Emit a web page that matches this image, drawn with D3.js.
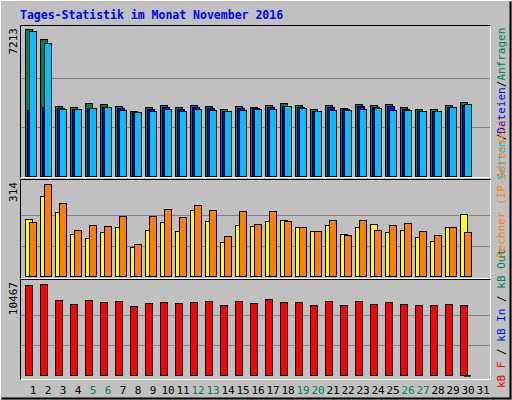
<!DOCTYPE html>
<html><head><meta charset="utf-8">
<script src="https://cdn.jsdelivr.net/npm/d3@7"></script>
<style>body{margin:0;background:#fff}</style>
</head><body><svg id="chart" width="512" height="400"></svg>
<script>
var days = d3.range(1, 32);
var weekend = [5, 6, 12, 13, 19, 20, 26, 27];
var hits = [7213,6707,3420,3370,3567,3518,3420,3174,3370,3469,3370,3469,3420,3272,3420,3370,3469,3567,3469,3272,3469,3322,3518,3469,3518,3370,3272,3272,3469,3616];
var files = [3239,3386,3322,3272,3322,3370,3322,3126,3272,3370,3272,3370,3322,3174,3322,3322,3370,3420,3370,3174,3370,3272,3420,3370,3420,3272,3174,3174,3370,3469];
var pages = [7100,6511,3272,3272,3322,3370,3224,3126,3174,3272,3174,3272,3224,3174,3224,3272,3272,3420,3322,3174,3224,3224,3272,3322,3224,3224,3174,3174,3370,3518];
var visits = [195,273,219,144,130,150,168,99,157,185,154,225,188,116,174,171,188,191,168,154,174,144,168,178,150,157,133,120,168,212];
var sites = [185,314,249,157,174,171,205,110,205,229,202,242,225,137,222,178,222,188,168,154,191,140,191,157,174,181,154,140,168,150];
var kbF = [10351,10467,8633,8175,8633,8404,8519,7946,8290,8404,8290,8404,8519,8061,8519,8290,8748,8404,8404,8061,8519,8061,8519,8175,8404,8175,8061,8061,8175,8061];
var kbIn = [0,0,0,0,0,0,0,0,0,0,0,0,0,0,0,0,0,0,0,0,0,0,0,0,0,0,0,0,0,60];
var maxLabels = ["7213", "314", "10467"];

var svg = d3.select("#chart");
var mono = "'DejaVu Sans Mono', monospace";
svg.append("rect").attr("width", 512).attr("height", 400).attr("fill", "#c0c0c0");
// outer bevel
svg.append("path").attr("d", "M0.5,399.5V0.5H511.5").attr("stroke", "#fff").attr("fill", "none");
svg.append("path").attr("d", "M1.5,398.5H510.5V1.5").attr("stroke", "#000").attr("stroke-width", 2).attr("fill", "none");

svg.append("text").attr("x", 20).attr("y", 19).attr("fill", "#0000ff")
  .style("font", "bold 11.5px " + mono).text("Tages-Statistik im Monat November 2016");

var x = d3.scaleLinear().domain([1, 31]).range([33, 483]);

var panels = [
  {top: 25, bottom: 177, base: 176, peak: 29, max: 7213},
  {top: 179, bottom: 278, base: 276.5, peak: 184.3, max: 314},
  {top: 279, bottom: 379, base: 375.7, peak: 284.3, max: 10467}
];
panels.forEach(function(p, i) {
  p.y = d3.scaleLinear().domain([0, p.max]).range([p.base, p.peak]);
  var g = svg.append("g");
  // grid at thirds
  [1, 2].forEach(function(k) {
    var gy = Math.round(p.base - (p.base - p.peak) * k / 3) + 0.5;
    g.append("line").attr("x1", 21).attr("x2", 490).attr("y1", gy).attr("y2", gy).attr("stroke", "#808080");
  });
  g.append("path").attr("d", "M20.5," + (p.bottom + 0.5) + "V" + (p.top + 0.5) + "H490.5")
    .attr("stroke", "#000").attr("fill", "none");
  g.append("path").attr("d", "M21," + (p.bottom + 0.5) + "H490.5V" + (p.top + 1))
    .attr("stroke", "#fff").attr("fill", "none");
  g.append("text").attr("transform", "translate(17," + (p.top + 3) + ") rotate(-90)")
    .attr("text-anchor", "end").style("font", "11px " + mono).text(maxLabels[i]);
});

function bars(panel, values, off, w, color) {
  svg.append("g").selectAll("rect").data(values).join("rect")
    .attr("x", function(d, i) { return x(i + 1) + off + 0.5; })
    .attr("y", function(d) { return Math.round(panel.y(d)) + 0.5; })
    .attr("width", w)
    .attr("height", function(d) { return Math.max(0, Math.round(panel.base - panel.y(d))); })
    .attr("fill", color).attr("stroke", "#000");
}
bars(panels[0], hits, -8, 7, "#00805c");
bars(panels[0], files, -6, 7, "#0000ff");
bars(panels[0], pages, -4, 7, "#00c0ff");
bars(panels[1], visits, -8, 7, "#ffff00");
bars(panels[1], sites, -4, 7, "#ff8000");
bars(panels[2], kbF, -8, 7, "#ff0000");
svg.append("g").selectAll("rect").data(kbIn).join("rect")
  .attr("x", function(d, i) { return x(i + 1) - 4; })
  .attr("y", function(d) { return panels[2].y(d); })
  .attr("width", function(d) { return d > 0 ? 7 : 0; })
  .attr("height", function(d) { return panels[2].base - panels[2].y(d) + 1; })
  .attr("fill", "#000");

svg.append("g").selectAll("text").data(days).join("text")
  .attr("x", function(d) { return x(d); }).attr("y", 394)
  .attr("text-anchor", "middle").style("font", "11px " + mono)
  .attr("fill", function(d) { return weekend.indexOf(d) >= 0 ? "#00805c" : "#000"; })
  .text(function(d) { return d; });

function vlabel(y, parts) {
  var t = svg.append("text").attr("transform", "translate(505," + y + ") rotate(-90)")
    .style("font", "11px " + mono);
  parts.forEach(function(p) { t.append("tspan").attr("fill", p[1]).text(p[0]); });
}
vlabel(180, [["Seiten", "#00c0ff"], ["/", "#000"], ["Dateien", "#0000ff"], ["/", "#000"], ["Anfragen", "#00805c"]]);
vlabel(258, [["Rechner (IP-Adressen)", "#ff8000"]]);
vlabel(388, [["kB F", "#ff0000"], [" / ", "#000"], ["kB In", "#0000ff"], [" / ", "#000"], ["kB Out", "#00805c"]]);
</script></body></html>
